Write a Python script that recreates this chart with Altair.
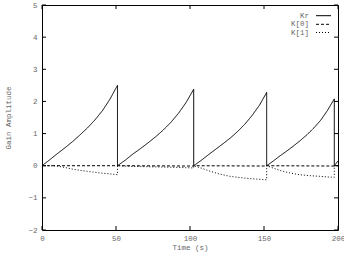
import altair as alt
import pandas as pd

# ---- data ----
kr_t = [0, 5.1, 10.2, 15.3, 20.4, 25.5, 30.6, 35.7, 40.8, 45.9, 51.0,
        51.0, 56.2, 61.3, 66.5, 71.6, 76.8, 81.9, 87.1, 92.2, 97.4, 102.5,
        102.5, 107.4, 112.4, 117.3, 122.2, 127.2, 132.1, 137.0, 141.9, 146.9, 151.8,
        151.8, 156.4, 160.9, 165.5, 170.1, 174.7, 179.2, 183.8, 188.4, 192.9, 197.5,
        197.5, 200.0]
kr_v = [0, 0.18, 0.37, 0.55, 0.74, 0.95, 1.17, 1.42, 1.71, 2.07, 2.50,
        0, 0.17, 0.36, 0.53, 0.71, 0.90, 1.11, 1.35, 1.63, 1.97, 2.38,
        0, 0.16, 0.34, 0.51, 0.68, 0.86, 1.06, 1.29, 1.56, 1.88, 2.28,
        0, 0.15, 0.31, 0.46, 0.62, 0.79, 0.97, 1.18, 1.42, 1.72, 2.08,
        0, 0.15]

k0_t = [0, 51.0, 51.0, 102.5, 102.5, 151.8, 151.8, 197.5, 197.5, 200.0]
k0_v = [0, 0, 0, -0.01, 0, -0.01, 0, -0.01, 0, 0]

k1_t = [0, 5, 10, 15, 20, 25, 30, 35, 40, 45, 51.0,
        51.0, 60, 70, 80, 90, 102.5,
        102.5, 108, 113.5, 120, 127, 134, 140.5, 146, 151.8,
        151.8, 156, 161, 167, 174, 181, 188, 193, 197.5,
        197.5, 200.0]
k1_v = [0, 0, -0.01, -0.05, -0.10, -0.14, -0.17, -0.20, -0.23, -0.25, -0.28,
        0, -0.02, -0.03, -0.04, -0.05, -0.07,
        0, -0.08, -0.17, -0.26, -0.33, -0.37, -0.40, -0.42, -0.44,
        0, -0.07, -0.15, -0.22, -0.28, -0.31, -0.33, -0.35, -0.36,
        0, 0]

series_names = ["Kr", "K[0]", "K[1]"]
x_ticks = [0, 50, 100, 150, 200]
y_ticks = [-2, -1, 0, 1, 2, 3, 4, 5]

W, H = 296, 225
FONT = "Liberation Mono"
FS = 7.5
TXT = "#666666"
TL = 4  # inner tick length

xs = alt.Scale(domain=[0, 200], nice=False, zero=False)
ys = alt.Scale(domain=[-2, 5], nice=False, zero=False)

x_axis = alt.Axis(
    values=x_ticks, format="d", title="Time (s)", grid=False, domain=False,
    ticks=False, tickSize=0, labelPadding=4, labelFont=FONT, labelFontSize=FS,
    labelColor=TXT, titleFont=FONT, titleFontSize=FS, titleFontWeight="normal",
    titleColor=TXT, titleX=W / 2, titleY=17, titleBaseline="middle",
    labelFlush=False)
y_axis = alt.Axis(
    values=y_ticks, format="d", title="Gain Amplitude", grid=False, domain=False,
    ticks=False, tickSize=0, labelPadding=5, labelFont=FONT, labelFontSize=FS,
    labelColor=TXT, titleFont=FONT, titleFontSize=FS, titleFontWeight="normal",
    titleColor=TXT, titleX=-34, titleY=H / 2, titleBaseline="middle",
    titleAlign="center", labelFlush=False)

def series_df(t, v):
    return pd.DataFrame({"t": t, "v": v, "i": list(range(len(t)))})

dashes = {"Kr": [1, 0], "K[0]": [3, 2], "K[1]": [1, 2]}
data_sets = {"Kr": (kr_t, kr_v), "K[0]": (k0_t, k0_v), "K[1]": (k1_t, k1_v)}

X = lambda f: alt.X(f, scale=xs, axis=x_axis)
Y = lambda f: alt.Y(f, scale=ys, axis=y_axis)

layers = []
for name in series_names:
    t, v = data_sets[name]
    layers.append(
        alt.Chart(series_df(t, v)).mark_line(
            color="black", strokeWidth=1, strokeDash=dashes[name], clip=True
        ).encode(x=X("t:Q"), y=Y("v:Q"), order=alt.Order("i:Q"))
    )

# inner (gnuplot-style) ticks on all four sides
ydf = pd.DataFrame({"v": y_ticks})
xdf = pd.DataFrame({"t": x_ticks})
tick_style = dict(color="black", strokeWidth=1)
layers.append(alt.Chart(ydf).mark_rule(**tick_style).encode(
    y=Y("v:Q"), x=alt.value(0), x2=alt.value(TL)))
layers.append(alt.Chart(ydf).mark_rule(**tick_style).encode(
    y=Y("v:Q"), x=alt.value(W - TL), x2=alt.value(W)))
layers.append(alt.Chart(xdf).mark_rule(**tick_style).encode(
    x=X("t:Q"), y=alt.value(H - TL), y2=alt.value(H)))
layers.append(alt.Chart(xdf).mark_rule(**tick_style).encode(
    x=X("t:Q"), y=alt.value(0), y2=alt.value(TL)))

# gnuplot-style key, top right: label then line sample
key_y = [10.7, 19.3, 27.5]
for name, ky in zip(series_names, key_y):
    ldf = pd.DataFrame({"label": [name]})
    layers.append(alt.Chart(ldf).mark_text(
        align="right", baseline="middle", font=FONT, fontSize=FS, color=TXT
    ).encode(x=alt.value(267), y=alt.value(ky), text="label:N"))
    layers.append(alt.Chart(ldf).mark_rule(
        color="black", strokeWidth=1, strokeDash=dashes[name]
    ).encode(x=alt.value(274), x2=alt.value(289), y=alt.value(ky)))

chart = alt.layer(*layers).properties(
    width=W, height=H,
    autosize=alt.AutoSizeParams(type="none"),
    padding={"left": 42, "top": 5, "right": 6, "bottom": 24},
    background="white",
).configure_view(stroke="black", strokeWidth=1)

chart.save("out.html", embed_options={"renderer": "svg", "actions": False})
